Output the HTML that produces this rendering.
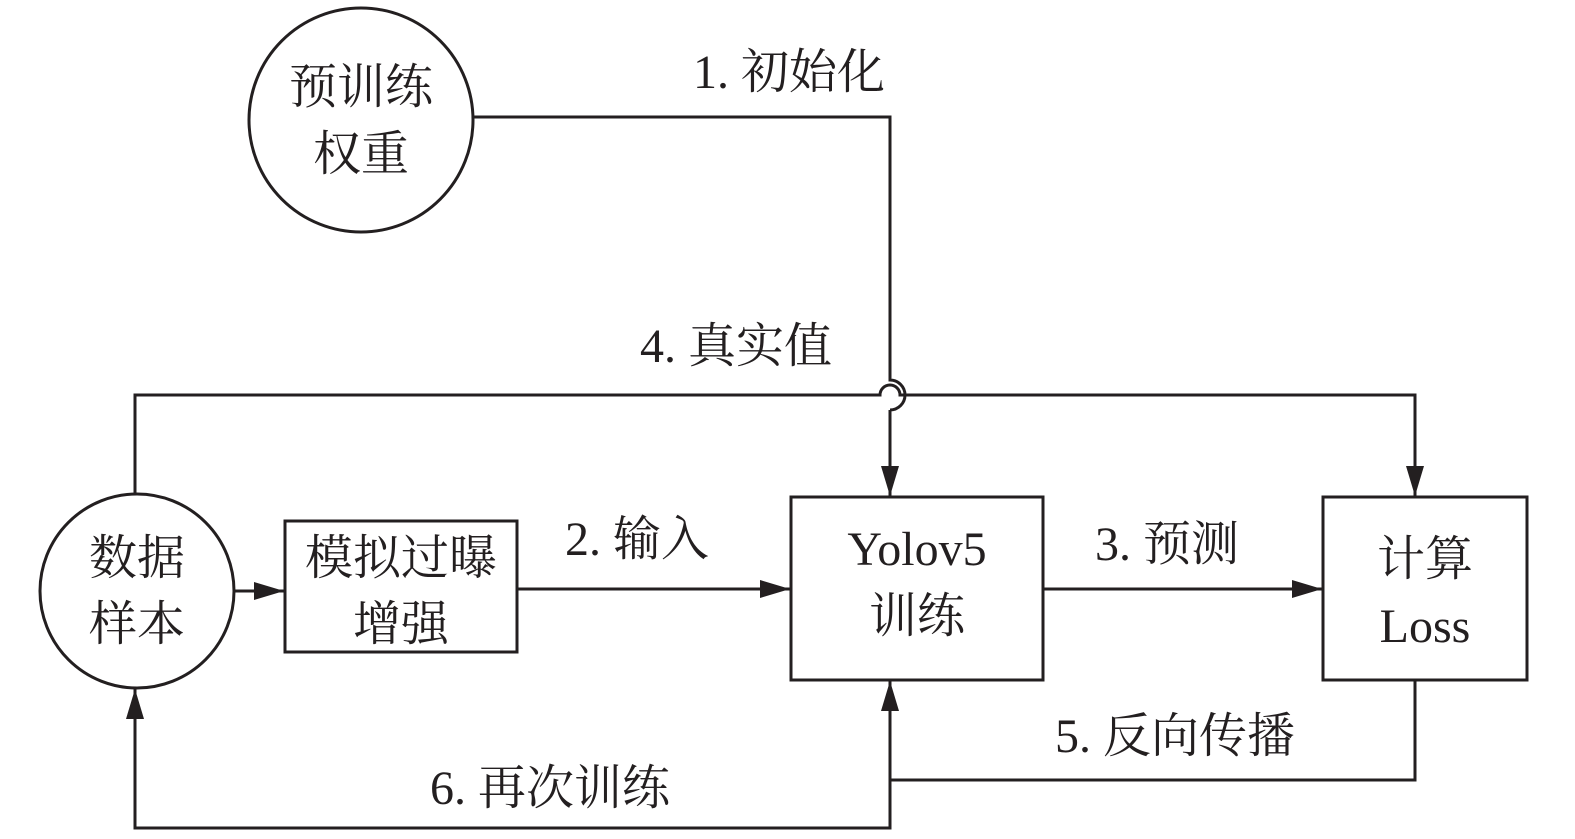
<!DOCTYPE html>
<html><head><meta charset="utf-8"><style>
html,body{margin:0;padding:0;background:#fff;}
svg text{font-family:"Liberation Serif","Noto Serif CJK SC",serif;font-size:48px;fill:#231f20;}
</style></head><body>
<svg width="1575" height="834" viewBox="0 0 1575 834" xmlns="http://www.w3.org/2000/svg">
<defs><marker id="a" markerWidth="12" markerHeight="10" refX="11" refY="5" orient="auto" markerUnits="userSpaceOnUse"><path d="M0,0 L12,5 L0,10 z" fill="#231f20" transform="scale(1)"/></marker>
<marker id="b" viewBox="0 0 30 18" markerWidth="30" markerHeight="18" refX="30" refY="9" orient="auto" markerUnits="userSpaceOnUse"><path d="M0,0 L30,9 L0,18 z" fill="#231f20"/></marker></defs>
<g stroke="#231f20" stroke-width="3" fill="none">
<circle cx="361" cy="120" r="112"/>
<circle cx="137" cy="591" r="97"/>
<rect x="285" y="521" width="232" height="131"/>
<rect x="791" y="497" width="252" height="183"/>
<rect x="1323" y="497" width="204" height="183"/>
<path d="M473,117 H890 V380 A10,10 0 0 1 890,410" />
<path d="M890,410 V496" marker-end="url(#b)"/>
<path d="M135,494 V395 H880 A10,10 0 0 1 900,395 H1415 V496" marker-end="url(#b)"/>
<path d="M234,591 H284" marker-end="url(#b)"/>
<path d="M517,589 H790" marker-end="url(#b)"/>
<path d="M1043,589 H1322" marker-end="url(#b)"/>
<path d="M1415,680 V780 H890 V681" marker-end="url(#b)"/>
<path d="M890,780 V828 H135 V689" marker-end="url(#b)"/>
</g>
<g text-anchor="middle">
<text x="361" y="103">预训练</text>
<text x="361" y="170">权重</text>
<text x="137" y="574">数据</text>
<text x="137" y="640">样本</text>
<text x="401" y="574">模拟过曝</text>
<text x="401" y="640">增强</text>
<text x="917" y="565">Yolov5</text>
<text x="917" y="632">训练</text>
<text x="1425" y="575">计算</text>
<text x="1425" y="642">Loss</text>
</g>
<text x="693" y="88">1. 初始化</text>
<text x="640" y="362">4. 真实值</text>
<text x="565" y="555">2. 输入</text>
<text x="1095" y="560">3. 预测</text>
<text x="1055" y="752">5. 反向传播</text>
<text x="430" y="804">6. 再次训练</text>
</svg>
</body></html>
